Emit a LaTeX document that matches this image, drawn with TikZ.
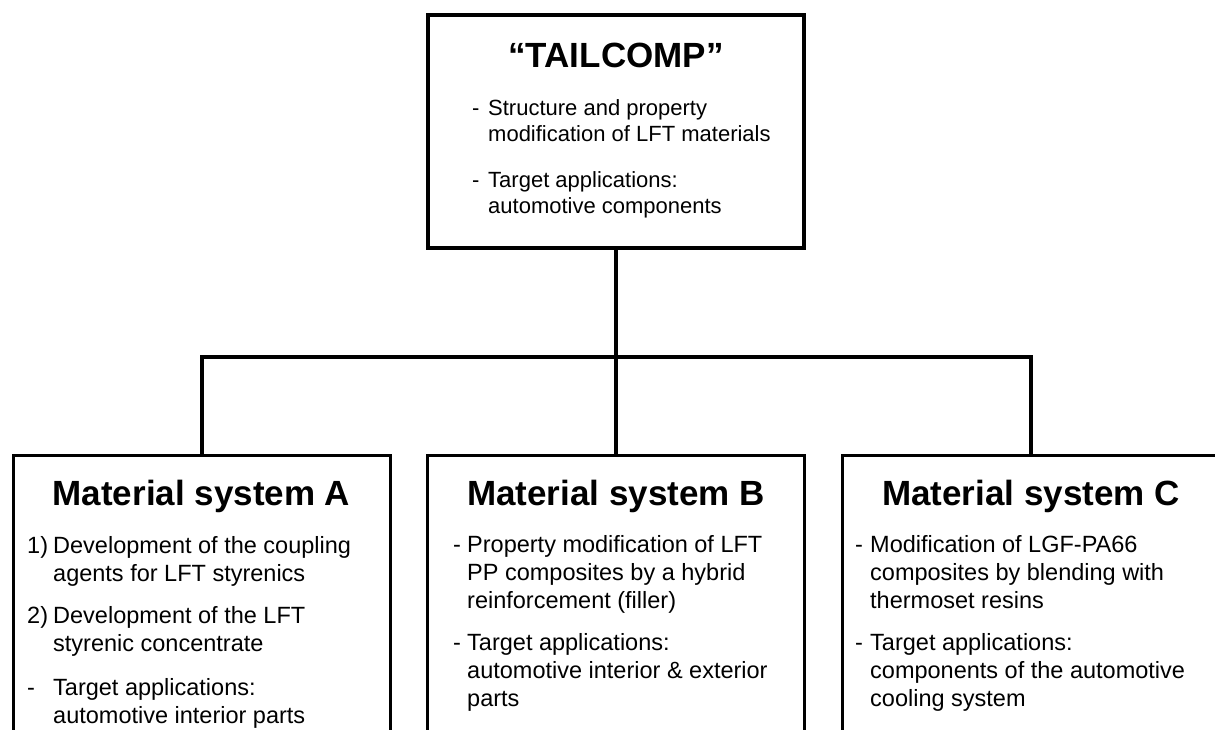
\documentclass[tikz,border=0pt]{standalone}
\usepackage{fontspec}
\setmainfont{Liberation Sans}
\usetikzlibrary{positioning}

\tikzset{
  mainbox/.style={draw, line width=4pt, rectangle, minimum width=376pt, minimum height=233pt, inner sep=0pt},
  sysbox/.style={draw, line width=3pt, rectangle, minimum width=377pt, minimum height=345pt, inner sep=0pt},
  heading/.style={anchor=base, inner sep=0pt, font=\fontsize{35}{42}\selectfont\bfseries},
  item/.style={anchor=base west, inner sep=0pt, align=left, font=\fontsize{23.5}{28}\selectfont},
  topitem/.style={item, font=\fontsize{22}{26.5}\selectfont},
  link/.style={line width=4pt},
}

\begin{document}
\begin{tikzpicture}[x=1pt, y=-1pt]
    \useasboundingbox (0,0) rectangle (1215,729);

    % project box (multi-line texts sit on their last baseline)
    \node (top) [mainbox] at (616,131.5) {};
    \node (topTitle) [heading] at (616,67) {“TAILCOMP”};
    \node (topDash1) [topitem] at (472,115) {-};
    \node (topText1) [topitem] at (488,141.5) {Structure and property\\modification of LFT materials};
    \node (topDash2) [topitem] at (472,187) {-};
    \node (topText2) [topitem] at (488,213.5) {Target applications:\\automotive components};

    % the three material systems
    \node (sysA) [sysbox] at (201.5,628) {};
    \node (sysB) [sysbox] at (616,628) {};
    \node (sysC) [sysbox] at (1031,628) {};

    \node (aTitle) [heading] at (201.5,505) {Material system A};
    \node (aMark1) [item] at (27,553) {1)};
    \node (aText1) [item] at (53,581) {Development of the coupling\\agents for LFT styrenics};
    \node (aMark2) [item] at (27,623) {2)};
    \node (aText2) [item] at (53,651) {Development of the LFT\\styrenic concentrate};
    \node (aMark3) [item] at (27,695) {-};
    \node (aText3) [item] at (53,723) {Target applications:\\automotive interior parts};

    \node (bTitle) [heading] at (616,505) {Material system B};
    \node (bDash1) [item] at (453,552) {-};
    \node (bText1) [item] at (467,608) {Property modification of LFT\\PP composites by a hybrid\\reinforcement (filler)};
    \node (bDash2) [item] at (453,650) {-};
    \node (bText2) [item] at (467,706) {Target applications:\\automotive interior \& exterior\\parts};

    \node (cTitle) [heading] at (1031,505) {Material system C};
    \node (cDash1) [item] at (855,552) {-};
    \node (cText1) [item] at (870,608) {Modification of LGF-PA66\\composites by blending with\\thermoset resins};
    \node (cDash2) [item] at (855,650) {-};
    \node (cText2) [item] at (870,706) {Target applications:\\components of the automotive\\cooling system};

    % tree connectors
    \coordinate (bus) at (616,357);
    \draw [link] (top.south) -- (sysB.north);
    \draw [link] (sysA.north) |- (bus) -| (sysC.north);
\end{tikzpicture}
\end{document}
